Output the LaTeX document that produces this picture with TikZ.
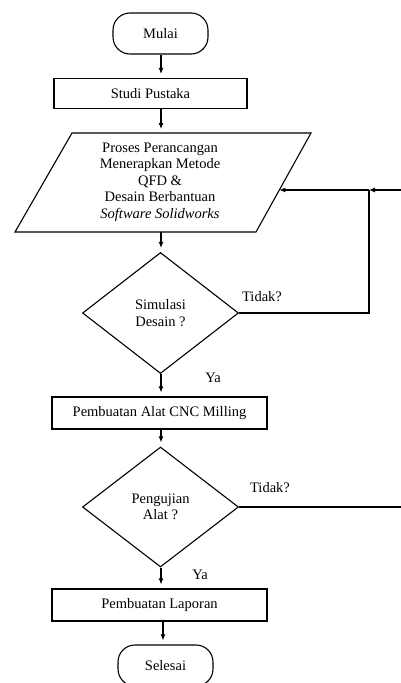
\documentclass[tikz,border=0pt]{standalone}
\usepackage{fontspec}
\setmainfont{Liberation Serif}
\usetikzlibrary{shapes.geometric,arrows.meta}
\begin{document}
\begin{tikzpicture}[x=1pt,y=-1pt,
  every node/.style={font=\fontsize{14.5}{16.5}\selectfont, inner sep=0pt},
  edge/.style={line width=1.1pt},
  arr/.style={line width=1.1pt, -{Latex[length=6pt,width=5pt]}},
  gaparr/.style={arr, shorten >=4pt},
  term/.style={draw, line width=1.1pt, rounded corners=17pt, minimum width=95pt, minimum height=41pt},
  proc/.style={draw, line width=1.1pt, minimum height=30pt},
  dec/.style={draw, line width=1.1pt, diamond, minimum width=156pt, minimum height=121pt, align=center, inner sep=0pt},
  lbl/.style={}
]
\useasboundingbox (0,0) rectangle (401,683);
\coordinate (sp) at (161,0);
% nodes
\node[term] (mulai) at (160.5,33.5) {Mulai};
\node[proc, minimum width=193pt] (studi) at (150.5,93.5) {Studi Pustaka};
\coordinate (ptl) at (72,133);
\coordinate (ptr) at (311,133);
\coordinate (pbr) at (256,232);
\coordinate (pbl) at (15,232);
\draw[edge] (ptl) -- (ptr) -- (pbr) -- (pbl) -- cycle;
\node[align=center] (proses) at (160,182) {Proses Perancangan\\Menerapkan Metode\\QFD \&\\Desain Berbantuan\\\textit{Software Solidworks}};
\coordinate (ptop) at (161,133);
\coordinate (pbot) at (161,232);
\coordinate (pright) at (279.3,190);
\node[dec] (sim) at (160.5,313) {Simulasi\\Desain ?};
\node[proc, minimum width=215pt, minimum height=32pt] (cnc) at (159.5,413) {Pembuatan Alat CNC Milling};
\node[dec, minimum height=120pt] (uji) at (160.5,507) {Pengujian\\Alat ?};
\node[proc, minimum width=215pt, minimum height=32pt] (lap) at (159.5,605) {Pembuatan Laporan};
\node[term] (selesai) at (165.5,665.5) {Selesai};
% labels
\node[lbl] (t1) at (262,297) {Tidak?};
\node[lbl] (y1) at (213,378) {Ya};
\node[lbl] (t2) at (270,488) {Tidak?};
\node[lbl] (y2) at (200,575) {Ya};
% connectors
\draw[gaparr] (sp |- mulai.south) -- (sp |- studi.north);
\draw[gaparr] (sp |- studi.south) -- (ptop);
\draw[gaparr] (pbot) -- (sp |- sim.north);
\draw[gaparr] (sp |- sim.south) -- (sp |- cnc.north);
\draw[gaparr] (sp |- cnc.south) -- (sp |- uji.north);
\draw[gaparr] (sp |- uji.south) -- (sp |- lap.north);
\draw[gaparr] (163,0 |- lap.south) -- (163,0 |- selesai.north);
% feedback
\coordinate (join) at (369,190);
\coordinate (redge1) at (401,190);
\coordinate (redge2) at (401,507);
\draw[edge] (sim.east) -- (join |- sim.east) -- (join);
\draw[arr] (join) -- (pright);
\draw[arr] (redge1) -- (join);
\draw[edge] (uji.east) -- (redge2);
\end{tikzpicture}
\end{document}
